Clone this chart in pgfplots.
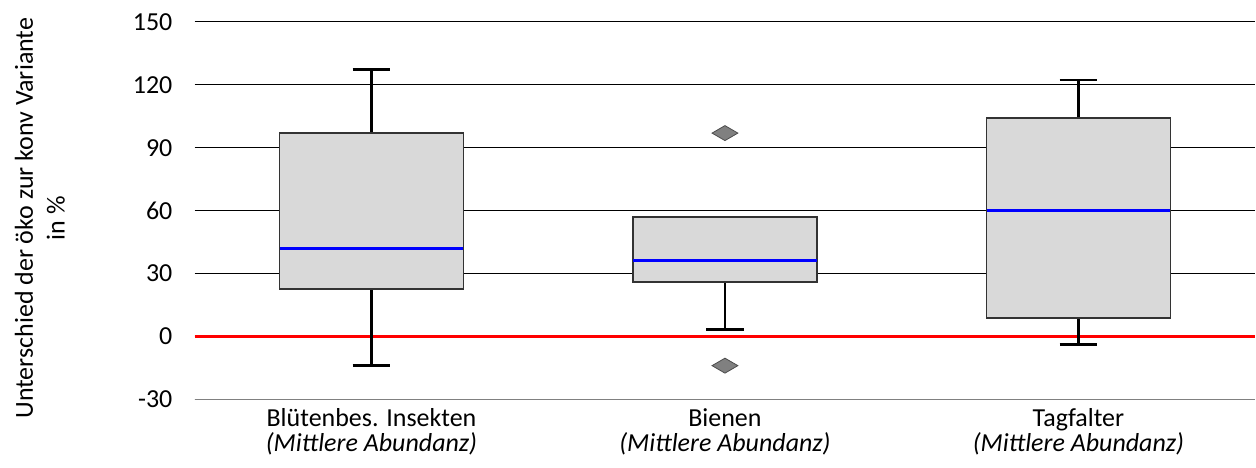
\documentclass[border=0pt]{standalone}
\usepackage{pgfplots}
\pgfplotsset{compat=1.18}
\usepgfplotslibrary{statistics}
\usepackage{fontspec}
\setmainfont{Carlito}
\definecolor{boxgray}{HTML}{D9D9D9}
\definecolor{outgray}{HTML}{808080}
\begin{document}
\begin{tikzpicture}
\begin{axis}[
  boxplot/draw direction=y,
  scale only axis,
  width=531pt, height=189pt,
  xmin=-0.5, xmax=2.5,
  ymin=-30, ymax=150,
  ytick={-30,0,30,60,90,120,150},
  xtick={0,1,2},
  xticklabels={{Blütenbes. Insekten\\\textit{(Mittlere Abundanz)}},{Bienen\\\textit{(Mittlere Abundanz)}},{Tagfalter\\\textit{(Mittlere Abundanz)}}},
  tick style={draw=none},
  ymajorgrids,
  grid style={black, line width=0.5pt},
  separate axis lines,
  axis x line*=bottom,
  axis y line*=left,
  x axis line style={gray, line width=0.8pt, -},
  y axis line style={draw=none},
  /pgf/number format/assume math mode=true,
  tick label style={font=\fontsize{13}{12}\selectfont},
  yticklabel style={inner sep=0pt, anchor=east, xshift=-11pt},
  xticklabel style={align=center, inner sep=0pt, anchor=north, yshift=-4.5pt, font=\fontsize{13}{12.6}\selectfont},
  ylabel={Unterschied der öko zur konv Variante\\in \%},
  ylabel style={font=\fontsize{13}{16}\selectfont, align=center, at={(axis description cs:-0.122,0.48)}, anchor=south, inner sep=0pt},
]
\addplot[red, line width=1.3pt, forget plot] coordinates {(-0.5,0) (2.5,0)};
\pgfplotsset{
  boxplot/every box/.style={draw=black!80, fill=boxgray, line width=0.75pt},
  boxplot/every whisker/.style={black, line width=1.2pt},
  boxplot/every median/.style={blue, line width=1.4pt},
}
\addplot[boxplot prepared={draw position=0, lower whisker=-13.8, lower quartile=22.7, median=42.0, upper quartile=97.1, upper whisker=127.3, box extend=0.52, whisker extend=0.106}] coordinates {};
\addplot[boxplot prepared={draw position=1, lower whisker=3.3, lower quartile=26.0, median=36.3, upper quartile=57.1, upper whisker=57.1, box extend=0.52, whisker extend=0.106}] coordinates {};
\addplot[boxplot prepared={draw position=2, lower whisker=-3.9, lower quartile=8.9, median=60.2, upper quartile=104.1, upper whisker=122.4, box extend=0.52, whisker extend=0.106}] coordinates {};
\addplot[only marks, mark=diamond*, mark size=3.75pt, mark options={fill=outgray, draw=black!70, line width=0.4pt, xscale=2.3}] coordinates {(1,97.0) (1,-13.9)};
\end{axis}
\path ([xshift=-97.5pt,yshift=-34pt]current axis.south west) rectangle ([yshift=11pt]current axis.north east);
\end{tikzpicture}
\end{document}
